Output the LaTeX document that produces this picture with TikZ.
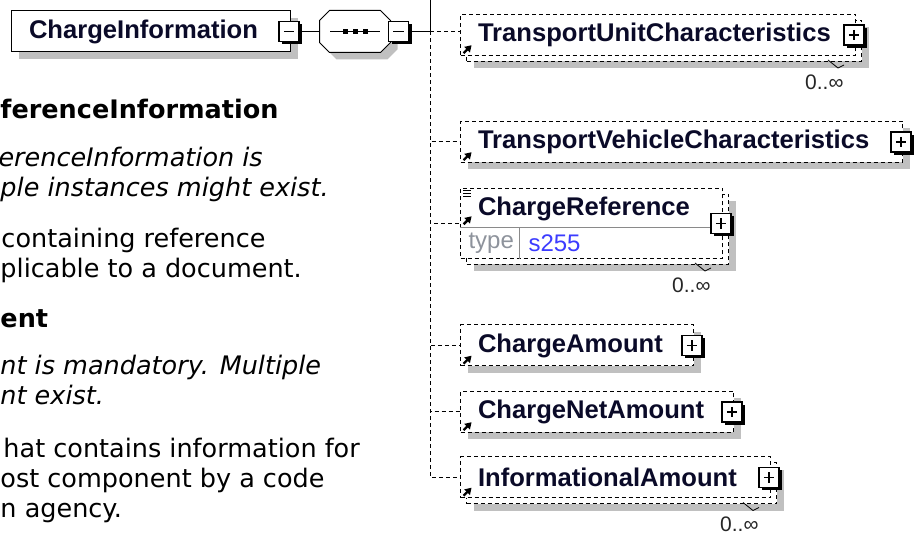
\documentclass[tikz,border=0pt]{standalone}
\usepackage{fontspec}
\newfontfamily\elemfont{Liberation Sans}
\newfontfamily\descfont{DejaVu Sans}
\usetikzlibrary{arrows.meta,positioning,shadows,backgrounds}
\definecolor{SchemaShadow}{HTML}{C0C0C0}
\definecolor{SchemaTypeGrey}{HTML}{8E939C}
\definecolor{SchemaTypeBlue}{HTML}{3C3CFF}
\definecolor{SchemaRule}{HTML}{8A8A8A}
\definecolor{SchemaText}{HTML}{0A0A28}

\begin{document}
\begin{tikzpicture}[x=0.5pt, y=-0.5pt, line width=0.5pt,
   elemname/.style={inner xsep=8.75pt, inner ysep=0pt, align=left, text=SchemaText,
                    font=\elemfont\bfseries\fontsize{12.8}{14}\selectfont},
   elem/.style={elemname, draw, fill=white, anchor=west, minimum height=20.5pt},
   opt/.style={dash pattern=on 2pt off 1.5pt},
   single/.style={general shadow={fill=SchemaShadow, shadow xshift=3.5pt, shadow yshift=-3.5pt}},
   multi/.style={general shadow={fill=SchemaShadow, shadow xshift=6.5pt, shadow yshift=-6.5pt},
                 general shadow={draw, fill=white, opt, shadow xshift=3pt, shadow yshift=-3pt}},
   pm/.style={draw, fill=white, solid, minimum size=10pt, inner sep=0pt, line width=0.6pt,
              general shadow={fill=black, shadow xshift=1.5pt, shadow yshift=-1.5pt}},
   minus/.style={pm, path picture={
       \draw[line width=0.6pt] ([xshift=2.4pt]path picture bounding box.west)
         -- ([xshift=-2.4pt]path picture bounding box.east);}},
   plus/.style={pm, path picture={
       \draw[line width=0.6pt] ([xshift=2.4pt]path picture bounding box.west)
         -- ([xshift=-2.4pt]path picture bounding box.east);
       \draw[line width=0.6pt] ([yshift=-2.4pt]path picture bounding box.north)
         -- ([yshift=2.4pt]path picture bounding box.south);}},
   ref/.style={-{Triangle[length=3.2pt,width=3.8pt]}, line width=1.2pt, solid},
   occurs/.style={anchor=east, inner sep=0pt, text=black!85,
                  font=\elemfont\fontsize{10.5}{12}\selectfont},
   desc/.style={anchor=base west, inner sep=0pt, text=black,
                font=\descfont\fontsize{12.75}{15}\selectfont},
   deschead/.style={desc, font=\descfont\bfseries\fontsize{12.75}{15}\selectfont},
   descnote/.style={desc, font=\descfont\itshape\fontsize{12.75}{15}\selectfont}]
  \useasboundingbox (0,0) rectangle (918,534);
  \clip (0,0) rectangle (918,534);

  % description, cut off at the left edge
  \node[deschead] (d1) at (0,119) {ferenceInformation};
  \node[descnote] (d2) at (-2,167) {erenceInformation is};
  \node[descnote] (d3) at (0,197) {ple instances might exist.};
  \node[desc] (d4) at (1,248) {containing reference};
  \node[desc] (d5) at (0,278) {plicable to a document.};
  \node[deschead] (d6) at (0,328) {ent};
  \node[descnote] (d7) at (0,375) {nt is mandatory. Multiple};
  \node[descnote] (d8) at (0,405) {nt exist.};
  \node[desc] (d9) at (3,458) {hat contains information for};
  \node[desc] (d10) at (0,488) {ost component by a code};
  \node[desc] (d11) at (0,518) {n agency.};

  % root element and sequence
  \node[elem, single, text width=122pt] (ci) at (11,31.5) {ChargeInformation};
  \node[minus] (cimin) at ([xshift=-1pt]ci.east) {};
  \node[minimum width=35pt, minimum height=20.5pt, inner sep=0pt] (seq) at (355,31.5) {};
  \fill[SchemaShadow]
    ([shift={(8.5pt,-3.5pt)}]seq.north west) -- ([shift={(-1.5pt,-3.5pt)}]seq.north east)
    -- ([shift={(3.5pt,-8.5pt)}]seq.north east) -- ([shift={(3.5pt,1.5pt)}]seq.south east)
    -- ([shift={(-1.5pt,-3.5pt)}]seq.south east) -- ([shift={(8.5pt,-3.5pt)}]seq.south west)
    -- ([shift={(3.5pt,1.5pt)}]seq.south west) -- ([shift={(3.5pt,-8.5pt)}]seq.north west) -- cycle;
  \draw[fill=white]
    ([xshift=5pt]seq.north west) -- ([xshift=-5pt]seq.north east)
    -- ([yshift=-5pt]seq.north east) -- ([yshift=5pt]seq.south east)
    -- ([xshift=-5pt]seq.south east) -- ([xshift=5pt]seq.south west)
    -- ([yshift=5pt]seq.south west) -- ([yshift=-5pt]seq.north west) -- cycle;
  \draw ([xshift=-12.5pt]seq.center) -- ([xshift=12.5pt]seq.center);
  \foreach \dx in {-5,0,5}
    \fill ([shift={(\dx pt-1.25pt,-1.25pt)}]seq.center) rectangle ++(2.5pt,2.5pt);
  \node[minus] (seqmin) at ([xshift=4pt]seq.east) {};
  \coordinate (jn) at (430,31.5);
  \coordinate (upper) at (430,0);
  \draw (cimin.east) -- (seq.west);
  \draw (seqmin.east) -- (jn) -- (upper);

  % child elements
  \node[elem, opt, multi, text width=180pt] (tuc) at (460,35) {TransportUnitCharacteristics};
  \node[elem, opt, single, text width=203.5pt] (tvc) at (460,142) {TransportVehicleCharacteristics};
  \node[elem, opt, multi, anchor=north west, minimum width=131pt, minimum height=35pt] (cref) at (460,188) {};
  \node[elemname, anchor=west] (crname) at ([yshift=7.5pt]cref.west) {ChargeReference};
  \node[elem, opt, single, text width=99pt] (ca) at (460,345.5) {ChargeAmount};
  \node[elem, opt, single, text width=119pt] (cna) at (460,412) {ChargeNetAmount};
  \node[elem, opt, multi, text width=137.5pt] (ia) at (460,477.5) {InformationalAmount};

  % type row of ChargeReference
  \draw[SchemaRule] ([yshift=-20pt]cref.north west) -- ([yshift=-20pt]cref.north east);
  \draw[SchemaRule] ([shift={(29.5pt,-20pt)}]cref.north west) -- ([xshift=29.5pt]cref.south west);
  \node[anchor=west, inner sep=0pt, text=SchemaTypeGrey, font=\elemfont\fontsize{12}{14}\selectfont]
    (crtype) at ([shift={(4pt,-27.5pt)}]cref.north west) {type};
  \node[anchor=west, inner sep=0pt, text=SchemaTypeBlue, font=\elemfont\fontsize{12}{14}\selectfont]
    (crval) at ([shift={(34pt,-27.5pt)}]cref.north west) {s255};
  \foreach \dy in {1.25,2.75,4.25}
    \draw ([shift={(1.5pt,-\dy pt)}]cref.north west) -- ++(4pt,0);

  \foreach \e in {tuc,tvc,cref,ca,cna,ia}
    \node[plus] (\e-plus) at ([xshift=-1pt]\e.east) {};
  \foreach \e in {tuc,tvc,ca,cna,ia}
    \draw[ref] ([shift={(1.8pt,1.4pt)}]\e.south west) -- ++(4pt,4pt);
  \draw[ref] ([shift={(1.8pt,-0.4pt)}]cref.west) -- ++(4pt,4pt);

  \foreach \e in {tuc,cref,ia}{
    \node[occurs] (\e-occ) at ([shift={(-6pt,-13pt)}]\e.south east) {0..∞};
    \draw[line width=0.4pt] ([shift={(-14pt,-2pt)}]\e.south east) -- ++(5pt,-4pt) -- ++(3pt,1.5pt);
  }

  % connectors
  \draw[opt] (jn) -- (jn -| tuc.west);
  \foreach \e in {tvc,cref,ca,cna,ia}
    \draw[opt] (jn) |- (\e.west);
\end{tikzpicture}
\end{document}
